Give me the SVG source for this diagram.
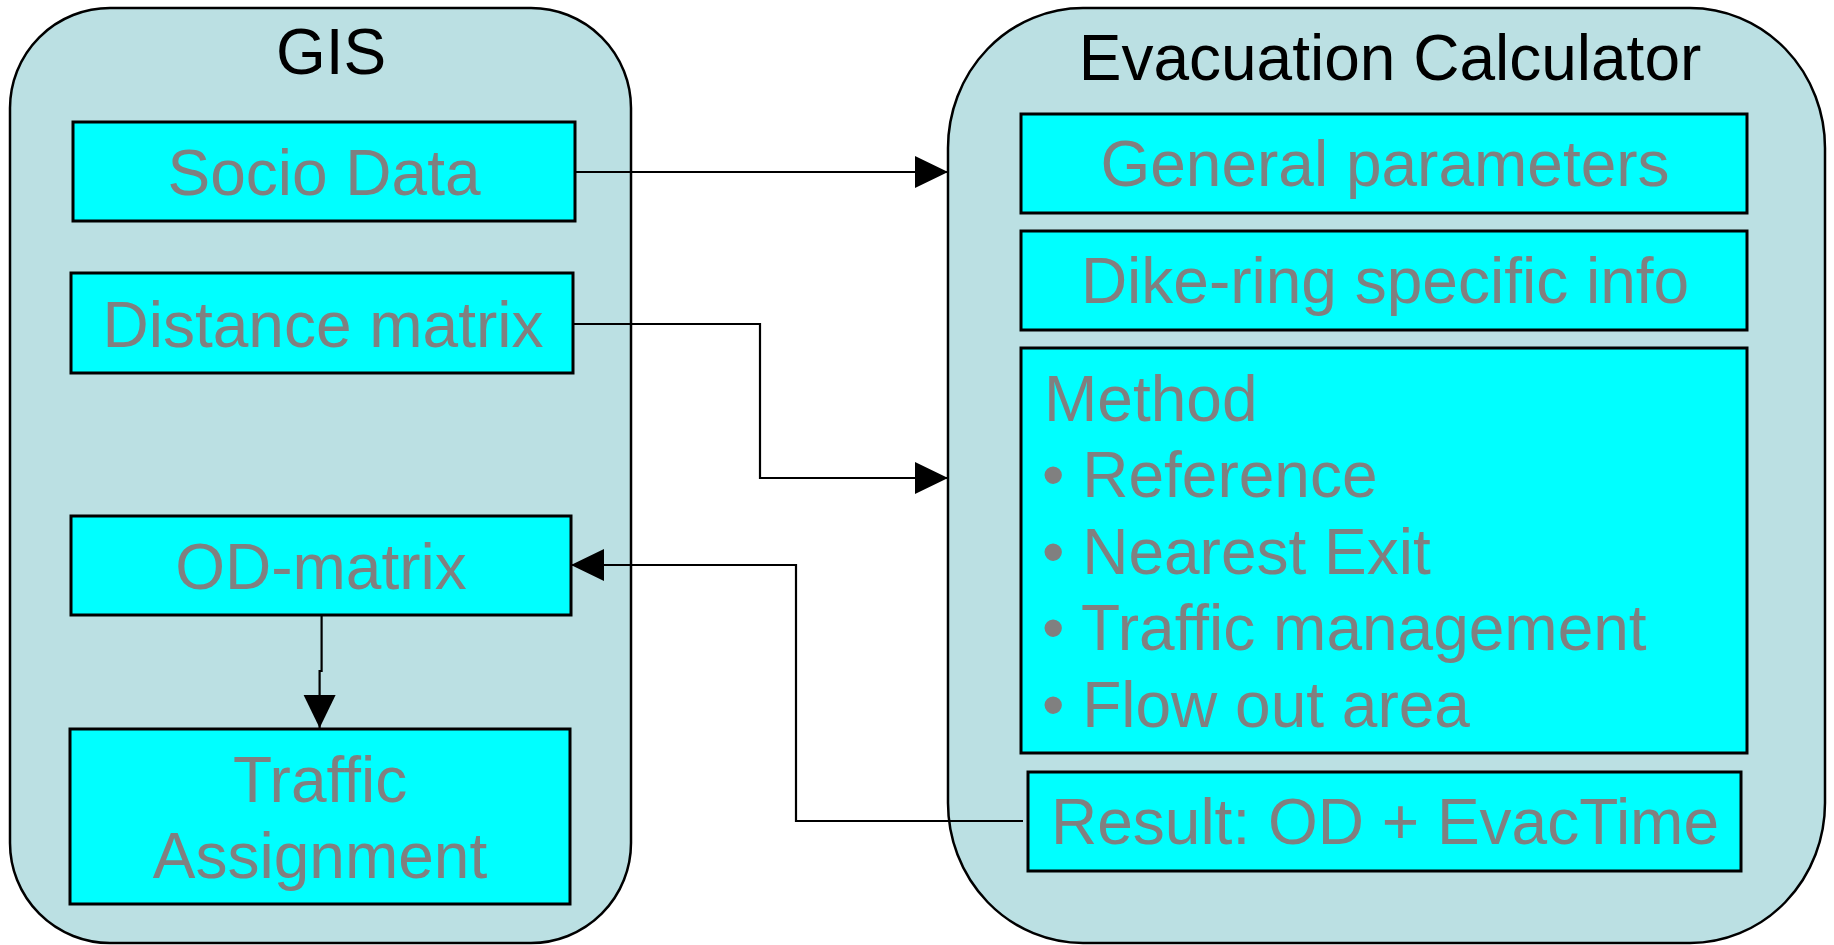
<svg xmlns="http://www.w3.org/2000/svg" width="1834" height="945" viewBox="0 0 1834 945">
<defs>
<style>
.cont{fill:#BBE0E3;stroke:#000;stroke-width:2.5}
.box{fill:#00FFFF;stroke:#000;stroke-width:3}
.t{font-family:"Liberation Sans",Arial,sans-serif;font-size:64px;fill:#808080}
.title{font-family:"Liberation Sans",Arial,sans-serif;font-size:64px;fill:#000}
.c{text-anchor:middle}
.conn{fill:none;stroke:#000;stroke-width:2.2}
</style>
<marker id="arr" markerUnits="userSpaceOnUse" markerWidth="34" markerHeight="34" refX="33" refY="16" orient="auto">
<path d="M0,0 L33,16 L0,32 Z" fill="#000"/>
</marker>
</defs>
<rect width="1834" height="945" fill="#fff"/>
<g id="gis">
<rect class="cont" x="10" y="8" width="621" height="935" rx="100" ry="100"/>
<text class="title c" x="331" y="74">GIS</text>
</g>
<g id="evac">
<rect class="cont" x="948" y="8" width="877" height="935" rx="135" ry="140"/>
<text class="title c" x="1390" y="80">Evacuation Calculator</text>
</g>
<g id="socio">
<rect class="box" x="73" y="122" width="502" height="99"/>
<text class="t c" x="324" y="195">Socio Data</text>
</g>
<g id="distance">
<rect class="box" x="71" y="273" width="502" height="100"/>
<text class="t c" x="323" y="347">Distance matrix</text>
</g>
<g id="od">
<rect class="box" x="71" y="516" width="500" height="99"/>
<text class="t c" x="321" y="589">OD-matrix</text>
</g>
<g id="traffic">
<rect class="box" x="70" y="729" width="500" height="175"/>
<text class="t c" x="320" y="802">Traffic</text>
<text class="t c" x="320" y="878">Assignment</text>
</g>
<g id="general">
<rect class="box" x="1021" y="114" width="726" height="99"/>
<text class="t c" x="1385" y="186">General parameters</text>
</g>
<g id="dike">
<rect class="box" x="1021" y="231" width="726" height="99"/>
<text class="t c" x="1385" y="303">Dike-ring specific info</text>
</g>
<g id="method">
<rect class="box" x="1021" y="348" width="726" height="405"/>
<text class="t" x="1044" y="421">Method</text>
<text class="t" x="1042" y="497">• Reference</text>
<text class="t" x="1042" y="574">• Nearest Exit</text>
<text class="t" x="1042" y="650">• Traffic management</text>
<text class="t" x="1042" y="727">• Flow out area</text>
</g>
<g id="result">
<rect class="box" x="1028" y="772" width="713" height="99"/>
<text class="t c" x="1385" y="844">Result: OD + EvacTime</text>
</g>
<g id="connectors">
<path class="conn" d="M575,172 H948" marker-end="url(#arr)"/>
<path class="conn" d="M573,324 H760 V478 H948" marker-end="url(#arr)"/>
<path class="conn" d="M1023,821 H796 V565 H571" marker-end="url(#arr)"/>
<path class="conn" d="M321.6,615 V671 H319.6 V728" marker-end="url(#arr)"/>
</g>
</svg>
